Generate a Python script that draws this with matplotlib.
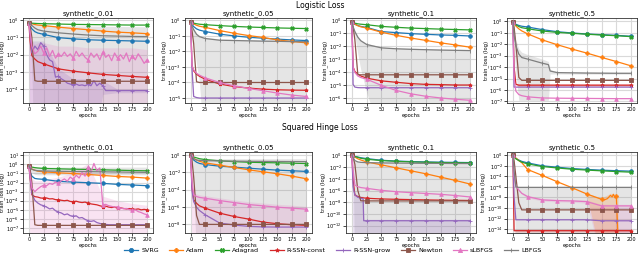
import numpy as np
import matplotlib
matplotlib.use("Agg")
import matplotlib.pyplot as plt
from matplotlib.ticker import FixedLocator, NullLocator
from matplotlib.lines import Line2D

METHODS = ["SVRG", "Adam", "Adagrad", "R-SSN-const", "R-SSN-grow", "Newton", "sLBFGS", "LBFGS"]
COLORS = ["#1f77b4", "#ff7f0e", "#2ca02c", "#d62728", "#9467bd", "#8c564b", "#e377c2", "#7f7f7f"]
MARKERS = ["o", "P", "X", "*", "+", "s", "^", "|"]

# epoch grids
E = [0, 2, 5, 10, 15, 25, 50, 75, 100, 125, 150, 175, 200]
EF = list(range(0, 201, 5))

# ---------------- Logistic loss, synthetic_0.01 (log10 of train loss) ----------------
L001_SVRG = [-0.15, -0.3, -0.5, -0.66, -0.74, -0.82, -1.01, -1.08, -1.13, -1.16, -1.18, -1.2, -1.22]
L001_ADAM = [-0.15, -0.17, -0.2, -0.25, -0.28, -0.31, -0.4, -0.48, -0.55, -0.63, -0.69, -0.73, -0.78]
L001_ADAGRAD = [-0.15, -0.16, -0.17, -0.18, -0.19, -0.2, -0.22, -0.24, -0.25, -0.26, -0.27, -0.28, -0.28]
L001_RSSNC = [-0.15, -1.2, -2.05, -2.25, -2.4, -2.53, -2.82, -2.95, -3.05, -3.14, -3.2, -3.26, -3.31]
L001_RSSNG = [-0.15, -1.9, -1.5, -1.7, -1.3, -1.5, -2.0, -2.3, -2.4, -3.3, -3.25, -3.4, -3.5,
              -3.65, -3.7, -3.75, -3.7, -3.78, -3.75, -3.8, -3.72, -3.8, -3.5, -3.8, -3.65, -3.8,
              -4.08, -4.08, -4.08, -4.08, -4.08, -4.08, -4.08, -4.08, -4.08, -4.08, -4.08, -4.08,
              -4.08, -4.08, -4.08]
L001_NEWTON = [-0.15, -0.3, -1.0, -3.5, -3.54, -3.54, -3.54, -3.54, -3.54, -3.54, -3.54, -3.54, -3.54]
L001_SLBFGS = [-0.15, -1.5, -1.95, -1.8, -1.5, -1.9, -1.6, -2.1, -1.75, -2.2, -1.95, -2.1, -1.85,
               -2.1, -1.95, -2.2, -1.8, -2.1, -1.9, -2.15, -2.3, -1.9, -2.15, -1.95, -2.3, -1.85,
               -2.15, -2.0, -2.35, -1.9, -2.2, -2.0, -2.25, -1.9, -2.4, -2.05, -2.3, -1.95, -2.2,
               -2.5, -2.3]
L001_LBFGS = [-0.15, -0.2, -0.3, -0.45, -0.55, -0.63, -0.73, -0.8, -0.86, -0.9, -0.92, -0.94, -0.95]
L001_GRAY_HI = [-0.15, -0.2, -0.22, -0.25, -0.27, -0.3, -0.32, -0.33, -0.34, -0.35, -0.36, -0.37, -0.38]
L001_GRAY_LO = [-0.15, -1.0, -3.0, -9, -9, -9, -9, -9, -9, -9, -9, -9, -9]
L001_PINK_HI = [-0.15, -0.8, -1.2, -1.4, -1.3, -1.3, -1.5, -1.5, -1.6, -1.6, -1.6, -1.6, -1.7]
L001_PINK_LO = [-0.15, -9, -9, -9, -9, -9, -9, -9, -9, -9, -9, -9, -9]
L001_PURPLE_HI = [-0.15, -1.2, -1.2, -1.2, -1.2, -1.2, -2.8, -3.4, -3.4, -3.5, -4.0, -4.0, -4.0]
L001_PURPLE_LO = [-0.15, -9, -9, -9, -9, -9, -9, -9, -9, -4.3, -4.2, -4.2, -4.2]

# ---------------- Logistic loss, synthetic_0.05 ----------------
L005_SVRG = [-0.13, -0.25, -0.4, -0.55, -0.63, -0.72, -0.89, -1.0, -1.09, -1.15, -1.21, -1.26, -1.3]
L005_ADAM = [-0.13, -0.17, -0.23, -0.32, -0.38, -0.45, -0.66, -0.83, -0.98, -1.1, -1.26, -1.36, -1.45]
L005_ADAGRAD = [-0.13, -0.15, -0.18, -0.22, -0.25, -0.28, -0.34, -0.39, -0.43, -0.46, -0.49, -0.51, -0.53]
L005_RSSNC = [-0.13, -2.9, -3.25, -3.47, -3.6, -3.79, -4.1, -4.26, -4.36, -4.43, -4.47, -4.49, -4.5]
L005_RSSNG = [-0.13, -3.0, -4.9, -4.97, -5.0, -5.0, -5.0, -5.0, -5.0, -5.0, -5.0, -5.0, -5.0]
L005_NEWTON = [-0.13, -0.6, -1.5, -3.95, -4.0, -4.0, -4.0, -4.0, -4.0, -4.0, -4.0, -4.0, -4.0]
L005_SLBFGS = [-0.13, -2.9, -3.19, -3.4, -3.53, -3.7, -4.0, -4.21, -4.38, -4.53, -4.68, -4.81, -4.9]
L005_LBFGS = [-0.13, -0.35, -0.6, -0.9, -1.05, -1.17, -1.28, -1.3, -1.32, -1.34, -1.35, -1.37, -1.38]
L005_GRAY_HI = [-0.13, -0.27, -0.52, -0.82, -0.97, -1.09, -1.2, -1.22, -1.24, -1.26, -1.27, -1.29, -1.3]
L005_GRAY_LO = [-0.13, -0.45, -1.5, -2.8, -4.0, -9, -9, -9, -9, -9, -9, -9, -9]

# ---------------- Logistic loss, synthetic_0.1 ----------------
L01_SVRG = [-0.16, -0.22, -0.3, -0.4, -0.47, -0.55, -0.87, -0.95, -1.03, -1.08, -1.13, -1.16, -1.21]
L01_ADAM = [-0.16, -0.22, -0.3, -0.42, -0.5, -0.6, -0.92, -1.16, -1.37, -1.55, -1.74, -1.9, -2.08]
L01_ADAGRAD = [-0.16, -0.18, -0.22, -0.27, -0.3, -0.34, -0.47, -0.54, -0.6, -0.64, -0.68, -0.71, -0.74]
L01_RSSNC = [-0.16, -3.6, -3.95, -4.16, -4.3, -4.47, -4.68, -4.79, -4.89, -4.95, -4.97, -5.0, -5.0]
L01_RSSNG = [-0.16, -4.95, -5.16, -5.2, -5.21, -5.21, -5.21, -5.21, -5.21, -5.21, -5.21, -5.21, -5.21]
L01_NEWTON = [-0.16, -0.5, -1.5, -4.2, -4.21, -4.21, -4.21, -4.21, -4.21, -4.21, -4.21, -4.21, -4.21]
L01_SLBFGS = [-0.16, -3.6, -4.03, -4.3, -4.42, -4.55, -5.03, -5.42, -5.68, -5.87, -6.0, -6.1, -6.18]
L01_LBFGS = [-0.16, -0.5, -0.87, -1.3, -1.58, -1.87, -2.13, -2.2, -2.24, -2.27, -2.3, -2.32, -2.34]
L01_GRAY_HI = [-0.16, -0.42, -0.79, -1.22, -1.5, -1.79, -2.05, -2.12, -2.16, -2.19, -2.22, -2.24, -2.26]
L01_GRAY_LO = [-0.16, -0.6, -1.2, -2.6, -3.8, -5.6, -9, -9, -9, -9, -9, -9, -9]

# ---------------- Logistic loss, synthetic_0.5 ----------------
L05_SVRG = [-0.06, -0.15, -0.25, -0.35, -0.42, -0.49, -0.72, -0.9, -1.01, -1.1, -1.16, -1.22, -1.3]
L05_ADAM = [-0.06, -0.2, -0.4, -0.65, -0.83, -1.09, -1.62, -2.04, -2.42, -2.77, -3.15, -3.51, -3.89]
L05_ADAGRAD = [-0.06, -0.18, -0.3, -0.45, -0.55, -0.64, -0.84, -0.96, -1.04, -1.12, -1.19, -1.25, -1.33]
L05_RSSNC = [-0.06, -4.0, -5.5, -5.58, -5.58, -5.58, -5.58, -5.58, -5.58, -5.58, -5.58, -5.58, -5.58]
L05_RSSNG = [-0.06, -5.75, -5.75, -5.75, -5.75, -5.75, -5.75, -5.75, -5.75, -5.75, -5.75, -5.75, -5.75]
L05_NEWTON = [-0.06, -0.5, -2.0, -4.9, -5.16, -5.16, -5.16, -5.16, -5.16, -5.16, -5.16, -5.16, -5.16]
L05_SLBFGS = [-0.06, -5.0, -6.1, -6.4, -6.5, -6.6, -6.7, -6.72, -6.73, -6.74, -6.75, -6.76, -6.76]
L05_LBFGS_EP = [0, 2, 5, 10, 15, 25, 50, 60, 63, 75, 100, 125, 150, 175, 200]
L05_LBFGS = [-0.06, -1.2, -2.12, -2.86, -3.16, -3.3, -3.66, -3.78, -4.34, -4.48, -4.5, -4.52, -4.53, -4.54, -4.54]
L05_GRAY_EP = [0, 2, 5, 10, 15, 25, 50, 60, 63, 75, 200]
L05_GRAY_HI = [-0.06, -0.8, -1.6, -2.4, -2.7, -2.9, -3.3, -3.5, -4.2, -4.4, -4.45]
L05_GRAY_LO = [-0.06, -2.5, -4.5, -6.9, -6.9, -6.9, -6.9, -6.9, -4.6, -4.6, -4.62]
L05_RED_HI = [-0.06, -3.9, -5.4, -5.46, -5.46, -5.46, -5.46, -5.46, -5.46, -5.46, -5.46, -5.46, -5.46]
L05_RED_LO = [-0.06, -4.1, -5.6, -5.7, -5.7, -5.7, -5.7, -5.7, -5.7, -5.7, -5.7, -5.7, -5.7]

# ---------------- Squared hinge loss, synthetic_0.01 ----------------
H001_SVRG = [-0.2, -0.8, -1.3, -1.55, -1.6, -1.65, -1.87, -1.95, -2.02, -2.09, -2.2, -2.27, -2.35]
H001_ADAM = [-0.2, -0.35, -0.5, -0.65, -0.75, -0.82, -0.93, -1.0, -1.11, -1.22, -1.33, -1.4, -1.51]
H001_ADAGRAD = [-0.2, -0.25, -0.3, -0.36, -0.4, -0.45, -0.49, -0.53, -0.56, -0.6, -0.64, -0.68, -0.71]
H001_RSSNC = [-0.2, -3.35, -3.55, -3.6, -3.7, -3.73, -3.7, -3.8, -3.78, -3.88, -3.9, -3.95, -4.0,
              -3.95, -4.08, -4.1, -4.05, -4.15, -4.2, -4.15, -4.27, -4.35, -4.4, -4.45, -4.55, -4.64,
              -4.6, -4.7, -4.75, -4.7, -4.82, -4.78, -4.85, -4.9, -4.86, -4.93, -4.95, -4.9, -5.0,
              -4.95, -5.0]
H001_RSSNG = [-0.2, -3.2, -3.95, -4.25, -4.45, -4.55, -4.7, -4.9, -4.82, -5.1, -5.25, -5.35, -5.55,
              -5.45, -5.65, -5.7, -5.66, -5.9, -5.85, -6.05, -6.2, -6.27, -6.2, -6.4, -6.5, -6.56,
              -6.6, -6.64, -6.64, -6.64, -6.64, -6.64, -6.64, -6.64, -6.64, -6.64, -6.64, -6.64,
              -6.64, -6.64, -6.64]
H001_NEWTON = [-0.2, -0.5, -2.0, -6.64, -6.71, -6.71, -6.71, -6.71, -6.71, -6.71, -6.71, -6.71, -6.71]
H001_SLBFGS = [-0.2, -2.6, -3.0, -2.7, -2.45, -2.3, -2.35, -2.1, -2.2, -1.95, -2.05, -1.8, -1.6,
               -1.85, -1.4, -1.65, -1.2, -1.5, -0.9, -1.3, -0.3, -0.9, 0.1, -0.7, -0.4, -4.45,
               -4.4, -4.55, -4.62, -4.7, -4.66, -4.8, -4.88, -4.85, -4.98, -5.05, -5.0, -5.2, -5.3,
               -5.45, -5.55]
H001_LBFGS = [-0.2, -0.4, -0.55, -0.65, -0.7, -0.72, -0.76, -0.78, -0.8, -0.82, -0.84, -0.86, -0.88]
H001_GRAY_HI = [-0.2, -0.2, -0.25, -0.27, -0.28, -0.3, -0.3, -0.3, -0.3, -0.3, -0.3, -0.3, -0.3]
H001_GRAY_LO = [-0.2, -0.6, -0.9, -1.1, -1.15, -1.15, -1.15, -1.15, -1.15, -1.15, -1.15, -1.15, -1.15]
H001_PINK_HI = [-0.2, 0.5, -1.5, -1.8, -1.8, -1.7, -1.4, -0.9, 0.1, -3.5, -4.0, -4.3, -4.5]
H001_PINK_LO = [-0.2, -12, -12, -12, -12, -12, -12, -12, -12, -12, -12, -12, -12]

# ---------------- Squared hinge loss, synthetic_0.05 ----------------
H005_SVRG = [0, -0.3, -0.55, -0.8, -0.95, -1.08, -1.27, -1.38, -1.5, -1.62, -1.73, -1.8, -1.88]
H005_ADAM = [0, -0.15, -0.35, -0.55, -0.7, -0.88, -1.15, -1.42, -1.69, -1.92, -2.15, -2.42, -2.73]
H005_ADAGRAD = [0, -0.1, -0.2, -0.3, -0.4, -0.5, -0.65, -0.74, -0.81, -0.85, -0.88, -0.92, -0.96]
H005_RSSNC = [0, -3.65, -5.19, -5.58, -5.88, -6.15, -6.73, -7.12, -7.42, -7.77, -7.96, -8.08, -8.15]
H005_RSSNG = [0, -4.04, -5.38, -6.04, -6.42, -6.92, -7.88, -8.12, -8.27, -8.33, -8.35, -8.35, -8.35]
H005_NEWTON = [0, -0.5, -2.5, -7.0, -8.04, -8.04, -8.04, -8.04, -8.04, -8.04, -8.04, -8.04, -8.04]
H005_SLBFGS = [0, -2.9, -4.6, -4.8, -4.9, -5.0, -5.27, -5.5, -5.73, -5.88, -6.04, -6.15, -6.27]
H005_LBFGS = [0, -0.2, -0.4, -0.55, -0.6, -0.63, -0.66, -0.68, -0.7, -0.71, -0.72, -0.73, -0.74]
H005_GRAY_HI = [0, -0.2, -0.35, -0.4, -0.4, -0.4, -0.4, -0.4, -0.4, -0.4, -0.4, -0.4, -0.4]
H005_GRAY_LO = [0, -1.5, -4, -12, -12, -12, -12, -12, -12, -12, -12, -12, -12]
H005_PINK_HI = [0, -2.6, -4.4, -4.5, -4.6, -4.7, -4.95, -5.2, -5.4, -5.55, -5.7, -5.8, -5.95]
H005_PINK_LO = [0, -12, -12, -12, -12, -12, -12, -12, -12, -12, -12, -12, -12]

# ---------------- Squared hinge loss, synthetic_0.1 ----------------
H01_SVRG = [0, -0.1, -0.2, -0.3, -0.42, -0.56, -0.85, -0.98, -1.07, -1.13, -1.18, -1.21, -1.24]
H01_ADAM = [0, -0.1, -0.3, -0.6, -0.8, -1.13, -1.63, -2.14, -2.65, -3.15, -3.72, -4.28, -4.9]
H01_ADAGRAD = [0, -0.1, -0.2, -0.35, -0.5, -0.68, -0.9, -1.03, -1.13, -1.19, -1.24, -1.27, -1.3]
H01_RSSNC = [0, -4.2, -6.76, -7.04, -7.2, -7.32, -7.44, -7.5, -7.55, -7.6, -7.64, -7.67, -7.7]
H01_RSSNG_EP = [0, 2, 5, 10, 15, 19, 20, 25, 50, 75, 100, 125, 150, 175, 200]
H01_RSSNG = [0, -5.35, -6.76, -7.15, -7.32, -7.4, -11.15, -11.15, -11.15, -11.15, -11.15, -11.15,
             -11.15, -11.15, -11.15]
H01_NEWTON = [0, -0.3, -1.5, -6.0, -7.75, -7.77, -7.77, -7.77, -7.77, -7.77, -7.77, -7.77, -7.77]
H01_SLBFGS = [0, -2.5, -5.07, -5.35, -5.5, -5.63, -5.97, -6.2, -6.37, -6.5, -6.65, -6.85, -7.1]
H01_LBFGS = [0, -0.4, -0.9, -1.13, -1.2, -1.25, -1.3, -1.33, -1.35, -1.37, -1.38, -1.4, -1.41]
H01_GRAY_HI = [0, -0.6, -1.0, -1.1, -1.1, -1.1, -1.1, -1.1, -1.1, -1.1, -1.1, -1.1, -1.1]
H01_GRAY_LO = [0, -3, -20, -20, -20, -20, -20, -20, -20, -20, -20, -20, -20]
H01_PURPLE_HI = [0, -5.0, -6.4, -6.8, -6.9, -7.0, -10.9, -10.9, -10.9, -10.9, -10.9, -10.9, -10.9,
                 -10.9, -10.9]
H01_PURPLE_LO = [0, -20, -20, -20, -20, -20, -20, -20, -20, -20, -20, -20, -20, -20, -20]

# ---------------- Squared hinge loss, synthetic_0.5 ----------------
H05_SVRG = [0, -0.3, -0.6, -0.9, -1.15, -1.44, -2.0, -2.26, -2.51, -2.68, -2.82, -2.92, -3.01]
H05_ADAM_EP = [0, 2, 5, 10, 15, 25, 50, 75, 100, 125, 150, 155, 160, 165, 168, 170, 173, 175, 178]
H05_ADAM = [0, -0.2, -0.5, -1.0, -1.4, -2.7, -3.83, -5.02, -6.15, -7.34, -8.35, -8.45, -8.22, -7.6,
            -7.9, -7.4, -8.1, -7.7, -16]
H05_ADAGRAD = [0, -0.3, -0.65, -1.0, -1.3, -1.63, -2.13, -2.4, -2.64, -2.8, -2.95, -3.08, -3.2]
H05_RSSNC = [0, -14.31, -14.31, -14.31, -14.31, -14.31, -14.31, -14.31, -14.31, -14.31, -14.31,
             -14.31, -14.31]
H05_RSSNG = [0, -8.0, -12.24, -12.24, -12.24, -12.24, -12.24, -12.24, -12.24, -12.24, -12.43,
             -12.43, -12.43]
H05_NEWTON = [0, -1.0, -4.0, -9.0, -10.36, -10.36, -10.36, -10.36, -10.36, -10.36, -10.36, -10.36,
              -10.36]
H05_SLBFGS = [0, -4.08, -5.84, -6.59, -7.22, -7.85, -8.47, -8.6, -8.66, -8.79, -9.6, -9.6, -9.6]
H05_LBFGS = [0, -3.0, -6.0, -6.09, -6.09, -6.09, -6.09, -6.09, -6.09, -6.09, -6.09, -6.09, -6.09]
H05_GRAY_HI = [0, -2.5, -5.9, -5.95, -5.95, -5.95, -5.95, -5.95, -5.95, -5.95, -5.95, -5.95, -5.95]
H05_GRAY_LO = [0, -6, -20, -20, -20, -20, -20, -20, -20, -20, -20, -20, -20]
H05_PINK_HI = [0, -3.8, -5.6, -6.4, -7.0, -7.6, -8.2, -8.35, -8.4, -8.5, -9.3, -9.3, -9.3]
H05_PINK_LO = [0, -4.3, -6.1, -6.8, -7.4, -8.1, -8.7, -8.85, -8.9, -9.1, -20, -20, -20]
H05_ORANGE_EP = [125, 150, 165, 175, 178]
H05_ORANGE_HI = [-7.2, -8.1, -7.2, -7.4, -7.6]
H05_ORANGE_LO = [-7.5, -20, -20, -20, -20]
H05_RED_HI = [0, -14.0, -14.0, -14.0, -14.0, -14.0, -14.0, -14.0, -14.0, -14.0, -14.0, -14.0, -14.0]
H05_RED_LO = [0, -14.6, -14.6, -14.6, -14.6, -14.6, -14.6, -14.6, -14.6, -14.6, -14.6, -14.6, -14.6]

TITLES = ["synthetic_0.01", "synthetic_0.05", "synthetic_0.1", "synthetic_0.5"]


def S(svrg, adam, adagrad, rssnc, rssng, newton, slbfgs, lbfgs):
    return dict(zip(METHODS, [svrg, adam, adagrad, rssnc, rssng, newton, slbfgs, lbfgs]))


PANELS = [
    # (row, col, series, bands, yticks, ylim)
    (0, 0, S((E, L001_SVRG), (E, L001_ADAM), (E, L001_ADAGRAD), (E, L001_RSSNC), (EF, L001_RSSNG),
             (E, L001_NEWTON), (EF, L001_SLBFGS), (E, L001_LBFGS)),
     [("LBFGS", E, L001_GRAY_LO, L001_GRAY_HI), ("sLBFGS", E, L001_PINK_LO, L001_PINK_HI),
      ("R-SSN-grow", E, L001_PURPLE_LO, L001_PURPLE_HI)],
     [0, -1, -2, -3, -4], (-4.8, 0.13)),
    (0, 1, S((E, L005_SVRG), (E, L005_ADAM), (E, L005_ADAGRAD), (E, L005_RSSNC), (E, L005_RSSNG),
             (E, L005_NEWTON), (E, L005_SLBFGS), (E, L005_LBFGS)),
     [("LBFGS", E, L005_GRAY_LO, L005_GRAY_HI)],
     [0, -1, -2, -3, -4, -5], (-5.32, 0.15)),
    (0, 2, S((E, L01_SVRG), (E, L01_ADAM), (E, L01_ADAGRAD), (E, L01_RSSNC), (E, L01_RSSNG),
             (E, L01_NEWTON), (E, L01_SLBFGS), (E, L01_LBFGS)),
     [("LBFGS", E, L01_GRAY_LO, L01_GRAY_HI)],
     [0, -1, -2, -3, -4, -5, -6], (-6.39, 0.18)),
    (0, 3, S((E, L05_SVRG), (E, L05_ADAM), (E, L05_ADAGRAD), (E, L05_RSSNC), (E, L05_RSSNG),
             (E, L05_NEWTON), (E, L05_SLBFGS), (L05_LBFGS_EP, L05_LBFGS)),
     [("LBFGS", L05_GRAY_EP, L05_GRAY_LO, L05_GRAY_HI), ("R-SSN-const", E, L05_RED_LO, L05_RED_HI)],
     [0, -1, -2, -3, -4, -5, -6, -7], (-7.14, 0.3)),
    (1, 0, S((E, H001_SVRG), (E, H001_ADAM), (E, H001_ADAGRAD), (EF, H001_RSSNC), (EF, H001_RSSNG),
             (E, H001_NEWTON), (EF, H001_SLBFGS), (E, H001_LBFGS)),
     [("LBFGS", E, H001_GRAY_LO, H001_GRAY_HI), ("sLBFGS", E, H001_PINK_LO, H001_PINK_HI)],
     [1, 0, -1, -2, -3, -4, -5, -6, -7], (-7.55, 1.36)),
    (1, 1, S((E, H005_SVRG), (E, H005_ADAM), (E, H005_ADAGRAD), (E, H005_RSSNC), (E, H005_RSSNG),
             (E, H005_NEWTON), (E, H005_SLBFGS), (E, H005_LBFGS)),
     [("LBFGS", E, H005_GRAY_LO, H005_GRAY_HI), ("sLBFGS", E, H005_PINK_LO, H005_PINK_HI)],
     [0, -2, -4, -6, -8], (-9.04, 0.38)),
    (1, 2, S((E, H01_SVRG), (E, H01_ADAM), (E, H01_ADAGRAD), (E, H01_RSSNC), (H01_RSSNG_EP, H01_RSSNG),
             (E, H01_NEWTON), (E, H01_SLBFGS), (E, H01_LBFGS)),
     [("LBFGS", E, H01_GRAY_LO, H01_GRAY_HI), ("R-SSN-grow", H01_RSSNG_EP, H01_PURPLE_LO, H01_PURPLE_HI)],
     [0, -2, -4, -6, -8, -10, -12], (-13.24, 0.56)),
    (1, 3, S((E, H05_SVRG), (H05_ADAM_EP, H05_ADAM), (E, H05_ADAGRAD), (E, H05_RSSNC), (E, H05_RSSNG),
             (E, H05_NEWTON), (E, H05_SLBFGS), (E, H05_LBFGS)),
     [("LBFGS", E, H05_GRAY_LO, H05_GRAY_HI), ("sLBFGS", E, H05_PINK_LO, H05_PINK_HI),
      ("Adam", H05_ORANGE_EP, H05_ORANGE_LO, H05_ORANGE_HI), ("R-SSN-const", E, H05_RED_LO, H05_RED_HI)],
     [0, -2, -4, -6, -8, -10, -12, -14], (-14.75, 0.63)),
]

W, H = 640, 261
COL_L = [23, 185, 346, 507]
COL_R = [153, 312, 476, 637]
ROW_T = [18, 152]
ROW_B = [103, 233]

fig = plt.figure(figsize=(W / 100, H / 100), dpi=100)
color_of = dict(zip(METHODS, COLORS))
marker_of = dict(zip(METHODS, MARKERS))

for row, col, series, bands, yt, (ylo, yhi) in PANELS:
    l, r = COL_L[col], COL_R[col]
    t, b = ROW_T[row], ROW_B[row]
    ax = fig.add_axes([l / W, 1 - b / H, (r - l) / W, (b - t) / H])
    ax.set_yscale("log")
    for m, ep, lo, hi in bands:
        ax.fill_between(ep, np.power(10.0, lo), np.power(10.0, hi), color=color_of[m],
                        alpha=0.2, lw=0, zorder=1)
    for m in METHODS:
        ep, v = series[m]
        mk = [i for i, e in enumerate(ep) if e % 25 == 0]
        ax.plot(ep, np.power(10.0, v), color=color_of[m], marker=marker_of[m], markevery=mk,
                ms=2.6, lw=0.9, mew=0.6, zorder=3)
    ax.set_xlim(-10, 210)
    ax.set_ylim(10.0 ** ylo, 10.0 ** yhi)
    ax.set_xticks(range(0, 201, 25))
    ax.yaxis.set_major_locator(FixedLocator([10.0 ** k for k in yt]))
    ax.yaxis.set_minor_locator(NullLocator())
    ax.grid(True, color="#d9d9d9", lw=0.8)
    ax.set_axisbelow(True)
    ax.tick_params(labelsize=3.6, length=2, width=0.5, pad=1)
    for sp in ax.spines.values():
        sp.set_linewidth(0.6)
        sp.set_color("#333333")
    ax.set_xlabel("epochs", fontsize=3.8, labelpad=0.5)
    ax.set_ylabel("train_loss (log)", fontsize=3.8, labelpad=0.5)
    ax.set_title(TITLES[col], fontsize=5, pad=2)

fig.text(0.5, 1 - 5 / H, "Logistic Loss", ha="center", va="center", fontsize=5.5)
fig.text(0.5, 1 - 128 / H, "Squared Hinge Loss", ha="center", va="center", fontsize=5.5)

handles = [Line2D([], [], color=c, marker=mk, ms=3, lw=0.9, mew=0.6) for c, mk in zip(COLORS, MARKERS)]
fig.legend(handles, METHODS, loc="center", bbox_to_anchor=(0.52, 1 - 250 / H), ncol=8,
           fontsize=4.6, frameon=False, handlelength=2.2, columnspacing=1.6, handletextpad=0.5)

fig.savefig("out.png", dpi=100)
